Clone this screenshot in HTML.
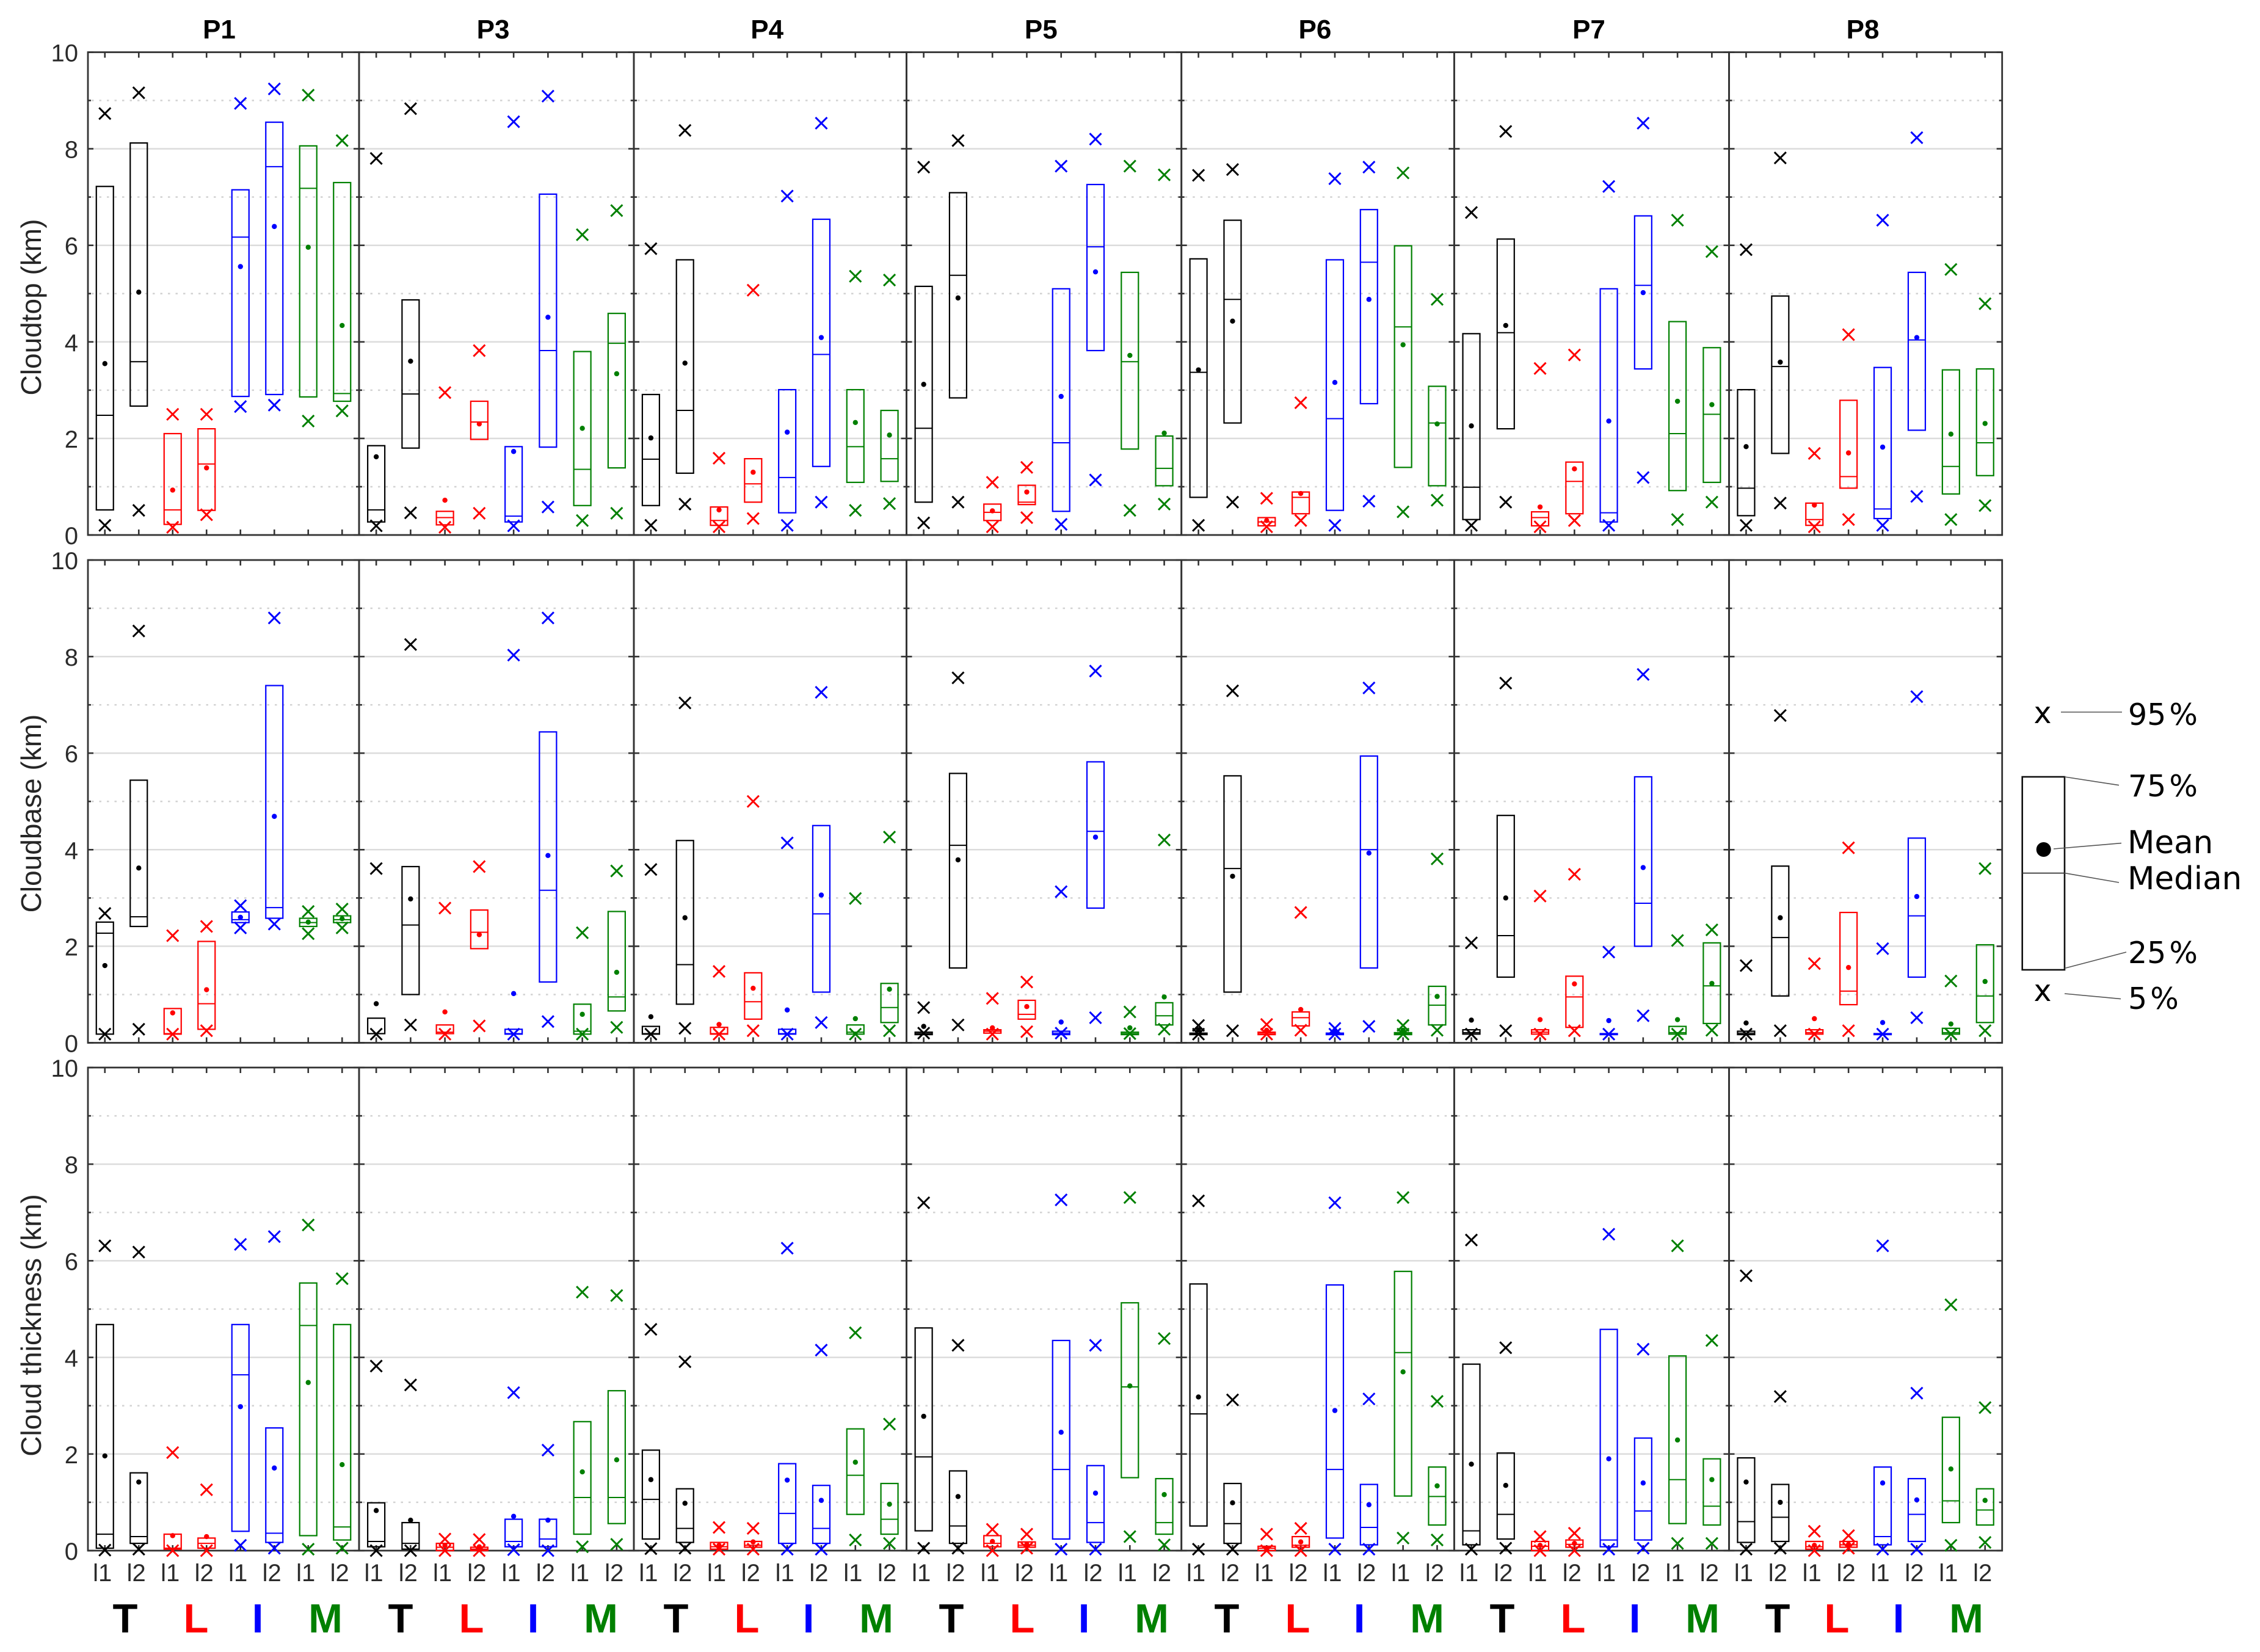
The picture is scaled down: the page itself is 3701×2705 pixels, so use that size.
<!DOCTYPE html>
<html lang="en">
<head>
<meta charset="utf-8">
<title>Cloud statistics box plots</title>
<style>
html,body{margin:0;padding:0;background:#fff;width:3701px;height:2705px;overflow:hidden}
svg{display:block}
text{font-family:"Liberation Sans",sans-serif}
.legend-text{font-family:"DejaVu Sans",sans-serif;font-size:49px;fill:#000}
.legend-name{font-size:51.5px}
</style>
</head>
<body>
<svg id="chart" xmlns="http://www.w3.org/2000/svg" width="3701" height="2705" viewBox="0 0 3701 2705">
  <g id="plots"></g>
  <g>
    <text class="legend-text" x="3345" y="1184" text-anchor="middle">x</text>
    <line x1="3375" y1="1166" x2="3475" y2="1166" stroke="#555" stroke-width="1.6"/>
    <text class="legend-text" x="3485" y="1187">95<tspan dx="5">%</tspan></text>
    <rect x="3311.7" y="1272" width="69.3" height="316" fill="none" stroke="#111" stroke-width="2.6"/>
    <line x1="3311.7" y1="1429.6" x2="3381" y2="1429.6" stroke="#333" stroke-width="1.8"/>
    <circle cx="3346.7" cy="1391" r="12" fill="#000"/>
    <line x1="3381" y1="1272" x2="3470" y2="1285.7" stroke="#555" stroke-width="1.6"/>
    <text class="legend-text" x="3485" y="1304">75<tspan dx="5">%</tspan></text>
    <line x1="3363" y1="1390" x2="3474" y2="1380.6" stroke="#555" stroke-width="1.6"/>
    <text class="legend-text legend-name" x="3484" y="1397">Mean</text>
    <line x1="3381" y1="1429.6" x2="3470" y2="1445" stroke="#555" stroke-width="1.6"/>
    <text class="legend-text legend-name" x="3484" y="1456">Median</text>
    <line x1="3381" y1="1585.5" x2="3482" y2="1559" stroke="#555" stroke-width="1.6"/>
    <text class="legend-text" x="3485" y="1577">25<tspan dx="5">%</tspan></text>
    <text class="legend-text" x="3345" y="1639" text-anchor="middle">x</text>
    <line x1="3381" y1="1627" x2="3473" y2="1635.6" stroke="#555" stroke-width="1.6"/>
    <text class="legend-text" x="3485" y="1652">5<tspan dx="5">%</tspan></text>
  </g>
</svg>
<script>
// ---- categories and labels ----
const panelNames = ["P1","P3","P4","P5","P6","P7","P8"];
const slotLabels = ["l1","l2","l1","l2","l1","l2","l1","l2"];
const groupLetters = ["T","L","I","M"];
const rowTitles = ["Cloudtop (km)","Cloudbase (km)","Cloud thickness (km)"];
const yTickLabels = [0,2,4,6,8,10];
const yMinorTicks = [1,3,5,7,9];

// ---- Cloudtop (km): 8 values per panel, in panel order ----
const topP95 = [8.73,9.16,2.5,2.5,8.94,9.24,9.11,8.17, 7.8,8.83,2.95,3.82,8.56,9.09,6.22,6.72, 5.93,8.38,1.59,5.07,7.02,8.53,5.36,5.28, 7.62,8.17,1.09,1.4,7.64,8.2,7.64,7.46, 7.45,7.57,.76,2.74,7.38,7.62,7.5,4.88, 6.68,8.36,3.45,3.73,7.22,8.53,6.52,5.87, 5.91,7.81,1.69,4.15,6.52,8.23,5.5,4.79];
const topP5 = [.2,.51,.16,.42,2.66,2.69,2.36,2.57, .19,.46,.16,.45,.19,.58,.3,.45, .2,.64,.17,.34,.2,.68,.51,.65, .25,.68,.17,.36,.22,1.14,.51,.64, .2,.68,.17,.3,.2,.7,.48,.72, .2,.68,.17,.3,.2,1.19,.32,.68, .2,.66,.17,.32,.2,.8,.32,.61];
const topQ75 = [7.22,8.12,2.1,2.2,7.15,8.55,8.06,7.3, 1.85,4.87,.49,2.77,1.83,7.06,3.8,4.59, 2.91,5.7,.58,1.58,3.01,6.54,3.01,2.58, 5.15,7.09,.64,1.03,5.1,7.26,5.44,2.05, 5.72,6.52,.36,.89,5.7,6.74,5.99,3.08, 4.17,6.13,.48,1.51,5.1,6.61,4.42,3.88, 3.01,4.95,.66,2.79,3.47,5.44,3.42,3.44];
const topQ25 = [.52,2.67,.22,.51,2.87,2.91,2.86,2.77, .27,1.8,.21,1.98,.27,1.82,.61,1.39, .61,1.28,.2,.68,.46,1.42,1.09,1.11, .68,2.84,.3,.63,.49,3.82,1.78,1.02, .78,2.32,.19,.44,.51,2.72,1.4,1.02, .32,2.2,.19,.44,.27,3.44,.92,1.09, .4,1.69,.2,.97,.34,2.17,.85,1.23];
const topMedian = [2.48,3.59,.52,1.47,6.17,7.63,7.18,2.93, .52,2.92,.36,2.34,.39,3.82,1.36,3.97, 1.57,2.58,.3,1.06,1.19,3.74,1.83,1.58, 2.21,5.38,.47,.68,1.91,5.97,3.59,1.38, 3.37,4.88,.27,.78,2.41,5.65,4.31,2.32, .99,4.19,.36,1.11,.46,5.17,2.1,2.5, .97,3.49,.32,1.21,.54,4.04,1.42,1.91];
const topMean = [3.55,5.03,.93,1.39,5.56,6.39,5.96,4.34, 1.62,3.6,.72,2.3,1.73,4.51,2.21,3.34, 2.01,3.56,.52,1.3,2.13,4.09,2.33,2.07, 3.12,4.91,.5,.89,2.87,5.45,3.72,2.11, 3.42,4.43,.3,.86,3.16,4.88,3.94,2.3, 2.26,4.34,.58,1.37,2.36,5.02,2.77,2.7, 1.83,3.58,.62,1.7,1.82,4.09,2.09,2.31];

// ---- Cloudbase (km) ----
const baseP95 = [2.68,8.53,2.22,2.41,2.84,8.8,2.72,2.77, 3.61,8.25,2.79,3.65,8.03,8.8,2.28,3.56, 3.59,7.04,1.48,5.0,4.14,7.26,2.99,4.26, .73,7.56,.92,1.26,3.13,7.7,.64,4.2, .36,7.29,.38,2.7,.3,7.35,.36,3.81, 2.07,7.45,3.04,3.49,1.88,7.63,2.12,2.34, 1.6,6.78,1.64,4.04,1.95,7.17,1.28,3.61];
const baseP5 = [.18,.28,.18,.25,2.38,2.46,2.26,2.38, .18,.37,.18,.35,.18,.44,.18,.32, .18,.3,.18,.25,.18,.42,.18,.25, .2,.37,.18,.23,.2,.52,.19,.28, .18,.25,.18,.26,.18,.34,.18,.26, .18,.25,.18,.25,.18,.56,.18,.26, .18,.25,.18,.25,.18,.52,.18,.25];
const baseQ75 = [2.5,5.44,.71,2.1,2.71,7.4,2.58,2.63, .51,3.65,.37,2.75,.28,6.44,.8,2.72, .34,4.19,.32,1.45,.28,4.5,.37,1.23, .22,5.58,.27,.88,.24,5.82,.22,.83, .2,5.53,.22,.64,.2,5.94,.21,1.17, .27,4.71,.27,1.38,.19,5.51,.34,2.07, .24,3.66,.27,2.7,.19,4.24,.3,2.03];
const baseQ25 = [.18,2.41,.18,.28,2.49,2.58,2.41,2.49, .19,1.0,.19,1.95,.18,1.26,.18,.66, .18,.8,.18,.49,.18,1.05,.18,.42, .17,1.55,.2,.49,.17,2.79,.17,.37, .17,1.05,.17,.35,.17,1.55,.17,.37, .18,1.36,.18,.32,.17,2.0,.18,.4, .17,.97,.18,.79,.17,1.36,.18,.42];
const baseMedian = [2.27,2.61,.19,.81,2.55,2.8,2.49,2.55, .19,2.44,.22,2.29,.19,3.16,.24,.95, .19,1.62,.19,.85,.19,2.67,.22,.73, .19,4.09,.24,.59,.2,4.38,.19,.56, .18,3.61,.2,.52,.18,4.0,.19,.78, .21,2.22,.22,.95,.18,2.89,.21,1.18, .2,2.18,.21,1.07,.18,2.63,.21,.97];
const baseMean = [1.6,3.62,.62,1.1,2.6,4.69,2.5,2.57, .81,2.98,.64,2.24,1.02,3.88,.59,1.46, .54,2.59,.38,1.13,.68,3.06,.5,1.11, .34,3.79,.31,.75,.43,4.26,.31,.95, .27,3.45,.26,.69,.26,3.93,.26,.96, .47,3.0,.48,1.22,.46,3.63,.48,1.23, .41,2.59,.5,1.56,.42,3.03,.39,1.27];

// ---- Cloud thickness (km) ----
const thickP95 = [6.31,6.18,2.03,1.26,6.34,6.5,6.74,5.63, 3.82,3.43,.24,.23,3.27,2.08,5.35,5.28, 4.58,3.91,.48,.46,6.26,4.15,4.51,2.62, 7.2,4.25,.44,.34,7.26,4.25,7.31,4.39, 7.24,3.12,.34,.46,7.2,3.14,7.31,3.09, 6.43,4.2,.29,.36,6.55,4.17,6.31,4.35, 5.69,3.19,.4,.31,6.31,3.26,5.09,2.96];
const thickP5 = [.01,.03,0,0,.11,.05,.03,.05, 0,0,0,0,.02,0,.08,.13, .04,.05,.03,.03,.03,.03,.22,.15, .05,.05,0,.05,.03,.03,.29,.12, .03,.03,0,0,.03,.03,.26,.22, .03,.05,0,0,.03,.05,.15,.15, .03,.05,0,.05,.03,.03,.11,.17];
const thickQ75 = [4.68,1.61,.34,.26,4.68,2.54,5.54,4.68, .99,.58,.15,.07,.65,.65,2.67,3.31, 2.08,1.28,.17,.19,1.8,1.35,2.52,1.39, 4.61,1.65,.31,.18,4.35,1.76,5.13,1.49, 5.52,1.39,.09,.29,5.5,1.37,5.78,1.73, 3.86,2.02,.19,.22,4.58,2.33,4.03,1.9, 1.92,1.37,.19,.19,1.73,1.49,2.76,1.28];
const thickQ25 = [.05,.15,.03,.05,.4,.17,.31,.22, .08,.03,0,0,.08,.08,.34,.56, .24,.17,.03,.07,.15,.15,.75,.34, .41,.15,.08,.07,.24,.17,1.51,.34, .51,.15,0,.07,.26,.12,1.13,.53, .12,.24,0,.07,.08,.22,.56,.53, .17,.19,.03,.07,.12,.19,.58,.53];
const thickMedian = [.34,.29,.05,.15,3.64,.36,4.66,.49, .19,.15,.07,.03,.19,.24,1.1,1.1, 1.06,.46,.08,.11,.77,.46,1.56,.65, 1.94,.51,.15,.11,1.68,.58,3.39,.58, 2.83,.56,.05,.11,1.68,.48,4.1,1.12, .41,.75,.09,.13,.22,.82,1.47,.92, .6,.69,.08,.12,.29,.75,1.03,.84];
const thickMean = [1.96,1.42,.31,.29,2.98,1.71,3.48,1.78, .83,.63,.11,.08,.71,.63,1.63,1.88, 1.47,.98,.11,.18,1.46,1.04,1.83,.96, 2.78,1.12,.19,.13,2.45,1.19,3.41,1.16, 3.18,.99,.05,.18,2.9,.95,3.7,1.34, 1.79,1.35,.11,.15,1.9,1.4,2.29,1.47, 1.42,1.0,.11,.13,1.4,1.05,1.69,1.04];

// ---- layout ----
const rowSeries = [
  {p95:topP95,p5:topP5,q75:topQ75,q25:topQ25,median:topMedian,mean:topMean},
  {p95:baseP95,p5:baseP5,q75:baseQ75,q25:baseQ25,median:baseMedian,mean:baseMean},
  {p95:thickP95,p5:thickP5,q75:thickQ75,q25:thickQ25,median:thickMedian,mean:thickMean}
];
const panelEdges = [144,588,1038,1484.5,1934.7,2381.4,2831.5,3278.7];
const rowTops = [85.5,917,1748];
const rowBottoms = [876,1707.5,2539];
const rowTitleY = [503,1332,2170];
const colors = ["#000000","#ff0000","#0000ff","#008000"];
const Y_MAX = 10;
const BOX_HALF = 14, X_HALF = 9.5, DOT_R = 4.2;
const plots = document.getElementById('plots');
const NS = 'http://www.w3.org/2000/svg';

function make(parent, tag, attrs, txt) {
  const el = document.createElementNS(NS, tag);
  for (const k in attrs) el.setAttribute(k, attrs[k]);
  if (txt !== undefined) el.textContent = txt;
  parent.appendChild(el);
  return el;
}
function xScale(p, i) {
  const w = panelEdges[p+1] - panelEdges[p];
  return panelEdges[p] + (i + 0.5) * w / slotLabels.length;
}
function yScale(r, v) {
  return rowBottoms[r] - v * (rowBottoms[r] - rowTops[r]) / Y_MAX;
}

// ---- panel titles ----
panelNames.forEach((name, p) => {
  const t = make(plots, 'text', {x: 359 + 448.6 * p, y: 63, 'text-anchor': 'middle', 'font-size': 44, 'font-weight': 'bold', fill: '#000'}, name);
  
  
});

// ---- rows ----
rowSeries.forEach((series, r) => {
  const rowGroup = make(plots, 'g', {});
  
  
  const top = rowTops[r], bottom = rowBottoms[r];

  const title = make(rowGroup, 'text', {transform: 'translate(67,' + rowTitleY[r] + ') rotate(-90)', 'text-anchor': 'middle', 'font-size': 46, fill: '#262626'}, rowTitles[r]);
  
  

  yTickLabels.forEach(v => {
    const lab = make(rowGroup, 'text', {x: 128, y: yScale(r, v) + 15, 'text-anchor': 'end', 'font-size': 40, fill: '#2b2b2b'}, String(v));
    
    
  });

  panelNames.forEach((name, p) => {
    const left = panelEdges[p], right = panelEdges[p+1];
    const pg = make(rowGroup, 'g', {});
    
    

    // grid
    yTickLabels.filter(v => v > 0 && v < Y_MAX).forEach(v => {
      const g = make(pg, 'line', {x1: left, x2: right, y1: yScale(r, v), y2: yScale(r, v), stroke: '#dcdcdc', 'stroke-width': 2.5});
      
      
    });
    yMinorTicks.forEach(v => {
      const g = make(pg, 'line', {x1: left + 6, x2: right - 4, y1: yScale(r, v), y2: yScale(r, v), stroke: '#d2d2d2', 'stroke-width': 2.5, 'stroke-dasharray': '3.5 9'});
      
      
    });

    // y ticks on both edges
    yTickLabels.concat(yMinorTicks).forEach(v => {
      const len = yTickLabels.includes(v) ? 9 : 5;
      const y = yScale(r, v);
      const a = make(pg, 'line', {x1: left, x2: left + len, y1: y, y2: y, stroke: '#333', 'stroke-width': 2.6});
      
      
      const b = make(pg, 'line', {x1: right, x2: right - len, y1: y, y2: y, stroke: '#333', 'stroke-width': 2.6});
      
      
    });

    // frame
    const frame = make(pg, 'rect', {x: left, y: top, width: right - left, height: bottom - top, fill: 'none', stroke: '#333', 'stroke-width': 2.8});
    
    

    // x ticks and marks
    slotLabels.forEach((slot, i) => {
      const cx = xScale(p, i);
      const tA = make(pg, 'line', {x1: cx, x2: cx, y1: top, y2: top + 9, stroke: '#333', 'stroke-width': 2.6});
      
      
      const tB = make(pg, 'line', {x1: cx, x2: cx, y1: bottom, y2: bottom - 9, stroke: '#333', 'stroke-width': 2.6});
      
      

      const k = p * slotLabels.length + i;
      const color = colors[Math.floor(i / 2)];
      const yTop = yScale(r, series.q75[k]), yBot = yScale(r, series.q25[k]);
      const box = make(pg, 'rect', {x: cx - BOX_HALF, y: yTop, width: 2 * BOX_HALF, height: Math.max(yBot - yTop, 1), fill: 'none', stroke: color, 'stroke-width': 2.2});
      
      

      const ym = yScale(r, series.median[k]);
      const med = make(pg, 'line', {x1: cx - BOX_HALF, x2: cx + BOX_HALF, y1: ym, y2: ym, stroke: color, 'stroke-width': 2});
      
      

      const dot = make(pg, 'circle', {cx: cx, cy: yScale(r, series.mean[k]), r: DOT_R, fill: color});
      
      

      [['p95', series.p95[k]], ['p5', series.p5[k]]].forEach(pair => {
        const y = yScale(r, pair[1]);
        const d = 'M' + (cx - X_HALF) + ' ' + (y - X_HALF) + 'L' + (cx + X_HALF) + ' ' + (y + X_HALF) + 'M' + (cx + X_HALF) + ' ' + (y - X_HALF) + 'L' + (cx - X_HALF) + ' ' + (y + X_HALF);
        const mark = make(pg, 'path', {d: d, stroke: color, 'stroke-width': 3, fill: 'none'});
        
        
      });

      if (r === rowSeries.length - 1) {
        const xl = make(pg, 'text', {x: cx - 4, y: 2589, 'text-anchor': 'middle', 'font-size': 40, fill: '#2b2b2b'}, slot);
        
        
      }
    });
  });
});

// ---- group letters ----
const letterOffsets = [205, 321, 422, 533];
panelNames.forEach((name, p) => {
  groupLetters.forEach((letter, j) => {
    const shift = (p === panelNames.length - 1 && j > 0) ? -19 : 0;
    const t = make(plots, 'text', {x: letterOffsets[j] + 451 * p + shift, y: 2673, 'text-anchor': 'middle', 'font-size': 67, 'font-weight': 'bold', fill: colors[j]}, letter);
    
    
  });
});
</script>
</body>
</html>
